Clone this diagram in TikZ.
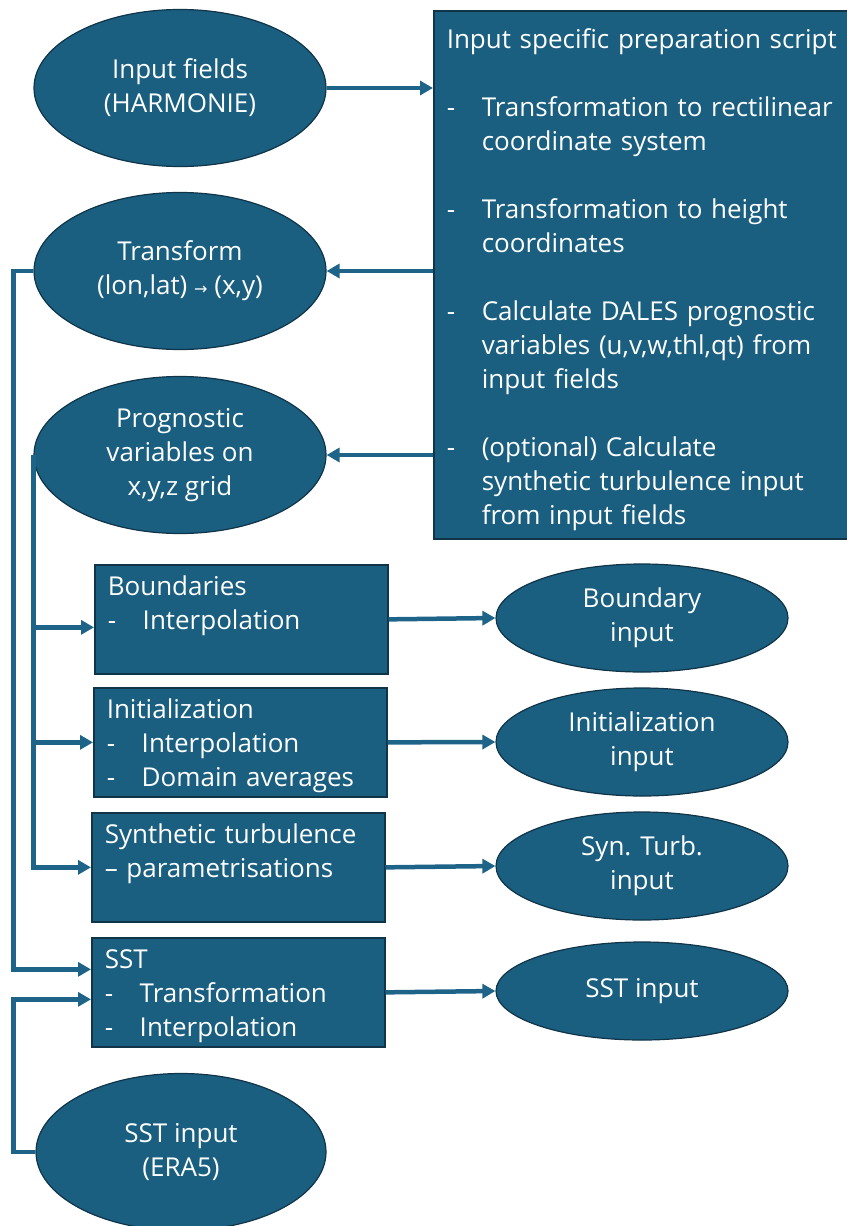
\documentclass[tikz,border=0pt]{standalone}
\usepackage{fontspec}
\setmainfont{Open Sans}
\newfontfamily\symfont{DejaVu Sans}
\usetikzlibrary{shapes.geometric,arrows.meta}
\definecolor{boxfill}{RGB}{26,94,128}
\definecolor{boxline}{RGB}{16,52,72}
\definecolor{arrcol}{RGB}{30,100,136}
\newcommand\txt{\fontsize{26}{34}\selectfont}
\newcommand\fr{\rule{0pt}{31pt}}
\tikzset{
  ell/.style={ellipse, draw=boxline, line width=1.2pt, fill=boxfill, text=white,
    minimum width=292pt, minimum height=157pt, inner sep=0pt, align=center, font=\txt},
  box/.style={rectangle, draw=boxline, line width=1.5pt, fill=boxfill, text=white,
    anchor=north west, inner xsep=13pt, inner ysep=0pt, text width=267pt,
    minimum height=108pt, font=\txt},
  bigbox/.style={box, text width=388pt, minimum height=528pt},
  arr/.style={draw=arrcol, line width=4.5pt, -{Triangle[length=13pt,width=14pt]}},
}
\begin{document}
\begin{tikzpicture}[x=1pt,y=-1pt]
\useasboundingbox (0,0) rectangle (846,1226);
\node[ell] (inp) at (180,88) {Input fields\\(HARMONIE)};
\node[ell] (tr) at (180,271) {Transform\\(lon,lat) {\symfont\fontsize{16}{16}\selectfont →} (x,y)};
\node[ell] (prog) at (180,455) {Prognostic\\variables on\\x,y,z grid};
\node[bigbox] (prep) at (433,10) {\begin{tabular}{@{}p{35pt}@{}l@{}}
\multicolumn{2}{@{}l@{}}{\rule{0pt}{33pt}Input specific preparation script}\\
&\\
-&Transformation to rectilinear\\
&coordinate system\\
&\\
-&Transformation to height\\
&coordinates\\
&\\
-&Calculate DALES prognostic\\
&variables (u,v,w,thl,qt) from\\
&input fields\\
&\\
-&(optional) Calculate\\
&synthetic turbulence input\\
&from input fields
\end{tabular}};
\node[box] (bnd) at (94,564) {\begin{tabular}{@{}p{35pt}@{}l@{}}
\multicolumn{2}{@{}l@{}}{\fr Boundaries}\\
-&Interpolation\\
&
\end{tabular}};
\node[box] (ini) at (93,687) {\begin{tabular}{@{}p{35pt}@{}l@{}}
\multicolumn{2}{@{}l@{}}{\fr Initialization}\\
-&Interpolation\\
-&Domain averages
\end{tabular}};
\node[box] (syn) at (91,812) {\begin{tabular}{@{}l@{}}
\fr Synthetic turbulence\\
– parametrisations\\
\\
\end{tabular}};
\node[box] (sst) at (91,937) {\begin{tabular}{@{}p{35pt}@{}l@{}}
\multicolumn{2}{@{}l@{}}{\fr SST}\\
-&Transformation\\
-&Interpolation
\end{tabular}};
\node[ell, minimum height=108pt] (bin) at (642,618) {Boundary\\input};
\node[ell, minimum height=108pt] (iin) at (642,742) {Initialization\\input};
\node[ell, minimum height=108pt] (sin) at (642,866) {Syn. Turb.\\input};
\node[ell, minimum height=98pt] (ssti) at (642,991) {SST input};
\node[ell, minimum width=290pt] (era) at (181,1152) {SST input\\(ERA5)};
% connectors
\draw[arr] (inp.east) -- (inp.east -| prep.west);
\draw[arr] (tr.east -| prep.west) -- (tr.east);
\draw[arr] (prog.east -| prep.west) -- (prog.east);
\draw[arr] (tr.west) -- ++(-20,0) |- ([yshift=23pt]sst.west);
\draw[arr] (era.west) -- ++(-22,0) |- ([yshift=-7pt]sst.west);
\coordinate (bA) at ([yshift=-8pt]bnd.west);
\draw[arr] (prog.west) |- (syn.west);
\draw[arr] (prog.west |- bA) -- (bA);
\draw[arr] (prog.west |- ini.west) -- (ini.west);
\draw[arr] (bnd.east) -- (bin.west);
\draw[arr] (ini.east) -- (iin.west);
\draw[arr] (syn.east) -- (sin.west);
\draw[arr] (sst.east) -- (ssti.west);
\end{tikzpicture}
\end{document}
